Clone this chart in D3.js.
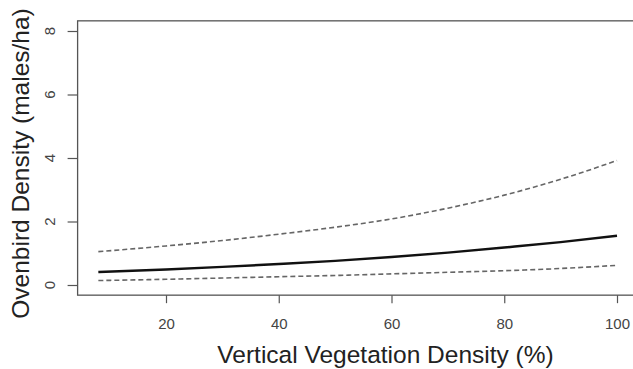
<!DOCTYPE html>
<html><head><meta charset="utf-8">
<script src="https://cdn.jsdelivr.net/npm/d3@7"></script>
<style>body{margin:0;background:#fff}svg{display:block}</style>
</head><body>
<svg id="c" width="633" height="369"></svg>
<script>
const xVals = [8, 20, 30, 40, 50, 60, 70, 80, 90, 100];
const meanVals = [0.41, 0.49, 0.57, 0.66, 0.76, 0.88, 1.02, 1.18, 1.35, 1.55];
const upperVals = [1.05, 1.23, 1.40, 1.60, 1.82, 2.08, 2.42, 2.83, 3.33, 3.92];
const lowerVals = [0.14, 0.18, 0.22, 0.26, 0.30, 0.35, 0.40, 0.45, 0.52, 0.62];
const xTicks = [20, 40, 60, 80, 100];
const yTicks = [0, 2, 4, 6, 8];
const xTitle = "Vertical Vegetation Density (%)";
const yTitle = "Ovenbird Density (males/ha)";

const svg = d3.select("#c");
const x = d3.scaleLinear().domain([20, 100]).range([166, 617]);
const y = d3.scaleLinear().domain([0, 8]).range([285, 31]);
const xPad = (100 - 8) * 0.04, yPad = 8 * 0.04;
const x0 = x(8 - xPad), x1 = x(100 + xPad), y0 = y(-yPad), y1 = y(8 + yPad);
const font = "Liberation Sans, Arial, sans-serif";

const axisCol = "#555";
svg.append("rect").attr("x", x0).attr("y", y1).attr("width", x1 - x0).attr("height", y0 - y1)
  .attr("fill", "none").attr("stroke", axisCol).attr("stroke-width", 1.3);

const xa = svg.append("g").attr("transform", `translate(0,${y0})`)
  .call(d3.axisBottom(x).tickValues(xTicks).tickSize(8).tickPadding(15).tickSizeOuter(0));
xa.select(".domain").remove();
xa.selectAll(".tick text").attr("fill", "#444").style("font-family", font).style("font-size", "15px");

const ya = svg.append("g").attr("transform", `translate(${x0},0)`)
  .call(d3.axisLeft(y).tickValues(yTicks).tickSize(10).tickFormat("").tickSizeOuter(0));
ya.select(".domain").remove();
svg.selectAll(".tick line").attr("stroke", axisCol).attr("stroke-width", 1.2);

svg.append("g").selectAll("text").data(yTicks).join("text")
  .attr("transform", d => `translate(50,${y(d)}) rotate(-90)`)
  .attr("text-anchor", "middle").attr("dy", "0.36em")
  .attr("fill", "#444").style("font-family", font).style("font-size", "15px")
  .text(d => d);

const pts = (vals) => xVals.map((v, i) => [v, vals[i]]);
const line = d3.line().x(d => x(d[0])).y(d => y(d[1])).curve(d3.curveMonotoneX);

svg.append("path").attr("d", line(pts(upperVals))).attr("fill", "none")
  .attr("stroke", "#666").attr("stroke-width", 1.6).attr("stroke-dasharray", "5,3");
svg.append("path").attr("d", line(pts(lowerVals))).attr("fill", "none")
  .attr("stroke", "#666").attr("stroke-width", 1.6).attr("stroke-dasharray", "5,3");
svg.append("path").attr("d", line(pts(meanVals))).attr("fill", "none")
  .attr("stroke", "#111").attr("stroke-width", 2.4);

svg.append("text").attr("x", 385.5).attr("y", 363).attr("text-anchor", "middle")
  .style("font-family", font).style("font-size", "24.5px").attr("fill", "#222")
  .text(xTitle);
svg.append("text").attr("transform", "translate(29,163.5) rotate(-90)").attr("text-anchor", "middle")
  .style("font-family", font).style("font-size", "24.5px").attr("fill", "#222")
  .text(yTitle);
</script>
</body></html>
